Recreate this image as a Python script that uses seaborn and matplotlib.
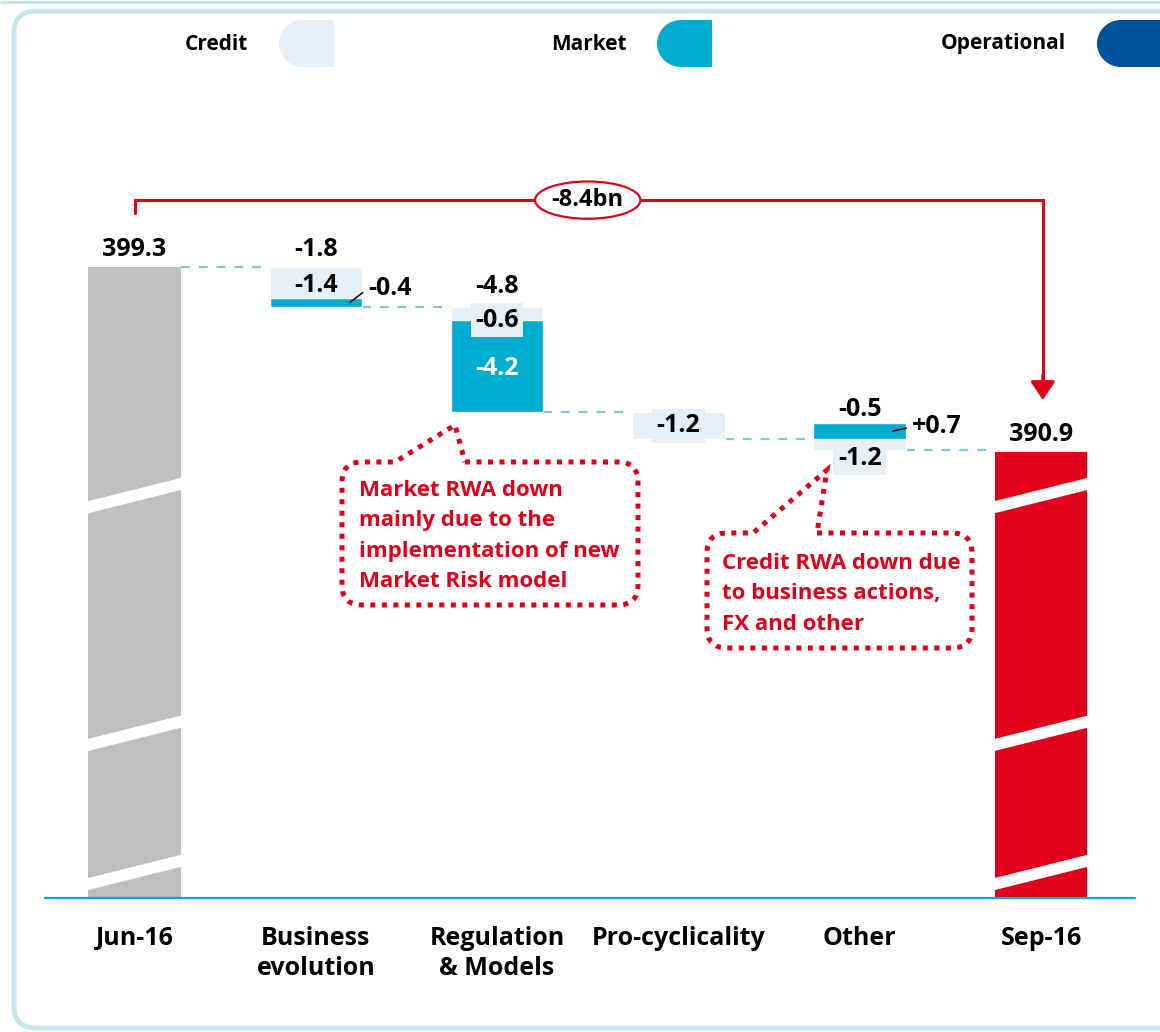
import numpy as np
import pandas as pd
import matplotlib.pyplot as plt
import seaborn as sns
from matplotlib.patches import Ellipse, Rectangle, PathPatch, FancyBboxPatch, Polygon
from matplotlib.path import Path

# data (RWA, bn)
categories = ["Jun-16", "Business\nevolution", "Regulation\n& Models", "Pro-cyclicality", "Other", "Sep-16"]
start_total = 399.3
end_total = 390.9
credit_chg = [-1.4, -0.6, -1.2, -1.2]   # Business, Regulation, Pro-cyclicality, Other
market_chg = [-0.4, -4.2, 0.0, 0.7]
net_chg = [-1.8, -4.8, -1.2, -0.5]
total_chg_label = "-8.4bn"
legend_names = ["Credit", "Market", "Operational"]
note_market = "Market RWA down\nmainly due to the\nimplementation of new\nMarket Risk model"
note_credit = "Credit RWA down due\nto business actions,\nFX and other"

# colours
CREDIT = "#e4eff7"
MARKET = "#00acd0"
OPER = "#00529b"
GREY = "#bfbfbf"
RED = "#e1001a"
DASH = "#7dcbd0"
FRAME = "#c7e5ef"
W = 0.51

sns.set_theme(style="white")
plt.rcParams['font.family'] = ['Open Sans', 'DejaVu Sans']

fig = plt.figure(figsize=(11.6, 10.32), dpi=100)
ax = fig.add_axes([0, 134 / 1032, 1, 898 / 1032])

# totals
df = pd.DataFrame({"cat": categories, "total": [start_total, 0, 0, 0, 0, end_total]})
sns.barplot(data=df, x="cat", y="total", hue="cat",
            palette=[GREY, "white", "white", "white", "white", RED], saturation=1,
            width=W, linewidth=0, legend=False, ax=ax, zorder=2)

# floating credit / market segments
level = start_total
levels = [start_total]
segs = []
for k in range(4):
    i = k + 1
    c, m = credit_chg[k], market_chg[k]
    if m > 0:
        m_lo, m_hi = level, level + m
        c_hi = level + m
        c_lo = c_hi + c
    else:
        c_hi, c_lo = level, level + c
        m_hi, m_lo = c_lo, c_lo + m
    ax.bar(i, c_hi - c_lo, bottom=c_lo, width=W, color=CREDIT, zorder=2)
    if m != 0:
        ax.bar(i, m_hi - m_lo, bottom=m_lo, width=W, color=MARKET, zorder=3)
    segs.append((c_lo, c_hi, m_lo, m_hi))
    level = level + c + m
    levels.append(level)

# dashed connectors
for i in range(5):
    ax.hlines(levels[i], i + W / 2, i + 1 - W / 2, colors=DASH, lw=1.6,
              linestyles=(0, (4, 4)), zorder=1)

# axis break stripes on the total bars
for i in [0, 5]:
    for c in [388.92, 378.12, 371.8]:
        d, t = 1.135, 0.55
        xs = [i - W / 2 - 0.02, i - W / 2 - 0.02, i + W / 2 + 0.02, i + W / 2 + 0.02]
        ys = [c - d / 2 - t / 2, c - d / 2 + t / 2, c + d / 2 + t / 2, c + d / 2 - t / 2]
        ax.add_patch(Polygon(list(zip(xs, ys)), closed=True, fc="white", ec="none", zorder=4))

ax.set_xlim(-134.5 / 181.3, (1160 - 134.5) / 181.3)
ax.set_ylim(370.64, 411.43)
ax.axhline(370.64, xmin=45 / 1160, xmax=1135 / 1160, color=MARKET, lw=1.6, clip_on=False, zorder=5)
sns.despine(ax=ax, left=True, bottom=True)
ax.set_yticks([])
ax.set_xticks(range(6))
ax.set_xticklabels(categories, fontsize=18, fontweight="bold", color="black", linespacing=1.3)
ax.tick_params(axis="x", length=0, pad=20)
ax.set_xlabel("")
ax.set_ylabel("")

lab = dict(fontsize=18, fontweight="bold", color="black", zorder=6)
boxed = dict(boxstyle="square,pad=0.18", fc=CREDIT, ec="none")

# totals labels
ax.annotate(f"{start_total:.1f}", (0, start_total), xytext=(0, 8), textcoords="offset points",
            ha="center", va="baseline", **lab)
ax.annotate(f"{end_total:.1f}", (5, end_total), xytext=(0, 8), textcoords="offset points",
            ha="center", va="baseline", **lab)

# business evolution
c_lo, c_hi, m_lo, m_hi = segs[0]
ax.annotate(f"{net_chg[0]:.1f}", (1, c_hi), xytext=(0, 8), textcoords="offset points",
            ha="center", va="baseline", **lab)
ax.annotate(f"{credit_chg[0]:.1f}", (1, (c_lo + c_hi) / 2), xytext=(0, -2), textcoords="offset points",
            ha="center", va="center", **lab)
ax.annotate(f"{market_chg[0]:.1f}", (1 + W / 2 - 0.066, (m_lo + m_hi) / 2), xytext=(13, 10),
            textcoords="offset points", ha="left", va="center", **lab,
            arrowprops=dict(arrowstyle="-", color="black", lw=1.1, shrinkA=2, shrinkB=0, relpos=(0, 0.5)))

# regulation & models
c_lo, c_hi, m_lo, m_hi = segs[1]
ax.annotate(f"{net_chg[1]:.1f}", (2, c_hi), xytext=(0, 10), textcoords="offset points",
            ha="center", va="baseline", **lab)
ax.annotate(f"{credit_chg[1]:.1f}", (2, (c_lo + c_hi) / 2), xytext=(0, -5), textcoords="offset points",
            ha="center", va="center", bbox=boxed, **lab)
ax.annotate(f"{market_chg[1]:.1f}", (2, (m_lo + m_hi) / 2), xytext=(0, -2), textcoords="offset points",
            ha="center", va="center", fontsize=18, fontweight="bold", color="white", zorder=6)

# pro-cyclicality
c_lo, c_hi, m_lo, m_hi = segs[2]
ax.annotate(f"{credit_chg[2]:.1f}", (3, (c_lo + c_hi) / 2), xytext=(0, 0), textcoords="offset points",
            ha="center", va="center", bbox=boxed, **lab)

# other
c_lo, c_hi, m_lo, m_hi = segs[3]
ax.annotate(f"{net_chg[3]:.1f}", (4, c_hi), xytext=(0, 5), textcoords="offset points",
            ha="center", va="baseline", **lab)
ax.annotate(f"+{market_chg[3]:.1f}", (4 + W / 2 - 0.072, (m_lo + m_hi) / 2), xytext=(14, 3),
            textcoords="offset points", ha="left", va="center", **lab,
            arrowprops=dict(arrowstyle="-", color="black", lw=1.1, shrinkA=2, shrinkB=0, relpos=(0, 0.5)))
ax.annotate(f"{credit_chg[3]:.1f}", (4, c_lo), xytext=(0, -6), textcoords="offset points",
            ha="center", va="center", bbox=boxed, **lab)

# total change bracket arrow
y_top = 402.34
ax.plot([0, 0, 5.01, 5.01], [401.75, y_top, y_top, 394.2], color=RED, lw=2.2,
        solid_joinstyle="miter", zorder=5)
ax.annotate("", xy=(5.01, 393.26), xytext=(5.01, 394.4),
            arrowprops=dict(arrowstyle="-|>,head_length=0.45,head_width=0.3", mutation_scale=25,
                            color=RED, lw=2.2, shrinkA=0, shrinkB=0), zorder=5)
ax.text(2.5, y_top, total_chg_label, ha="center", va="center", fontsize=17, fontweight="bold",
        color="black", zorder=7,
        bbox=dict(boxstyle="ellipse,pad=0.05", fc="white", ec=RED, lw=1.6))

# overlay in pixel coords for frame, legend and callouts
ov = fig.add_axes([0, 0, 1, 1], zorder=5)
ov.set_xlim(0, 1160)
ov.set_ylim(1032, 0)
ov.axis("off")

ov.plot([0, 1160], [1.5, 1.5], color=FRAME, lw=2.2, solid_capstyle="butt")
ov.add_patch(FancyBboxPatch((14, 11), 1180, 1017, boxstyle="round,pad=0,rounding_size=22",
                            fc="none", ec=FRAME, lw=3.5))

# legend
for name, col, tx, sx in zip(legend_names, [CREDIT, MARKET, OPER], [216, 589, 1003], [279, 657, 1097]):
    ov.text(tx, 44, name, ha="center", va="center", fontsize=15, fontweight="bold", color="black")
    ov.add_patch(Ellipse((sx + 24, 43.5), 48, 47, fc=col, ec="none"))
    ov.add_patch(Rectangle((sx + 24, 20), 55 - 24 if sx < 1000 else 60, 47, fc=col, ec="none"))


def callout(x0, y0, x1, y1, r, tl, apex, tr):
    verts = [(tr, y0), (x1 - r, y0), (x1, y0), (x1, y0 + r), (x1, y1 - r), (x1, y1), (x1 - r, y1),
             (x0 + r, y1), (x0, y1), (x0, y1 - r), (x0, y0 + r), (x0, y0), (x0 + r, y0),
             (tl, y0), apex, (tr, y0)]
    codes = [Path.MOVETO, Path.LINETO, Path.CURVE3, Path.CURVE3, Path.LINETO, Path.CURVE3, Path.CURVE3,
             Path.LINETO, Path.CURVE3, Path.CURVE3, Path.LINETO, Path.CURVE3, Path.CURVE3,
             Path.LINETO, Path.LINETO, Path.LINETO]
    ov.add_patch(PathPatch(Path(verts, codes), fc="none", ec=RED, lw=3.6,
                           linestyle=(0, (1, 1.3)), capstyle="butt", joinstyle="miter"))


callout(342, 462, 638, 605, 20, 395, (455, 425), 465)
ov.text(359, 536, note_market, ha="left", va="center", fontsize=16, fontweight="bold",
        color=RED, linespacing=1.6)
callout(707, 533, 972, 648, 20, 753, (827, 470), 817)
ov.text(722, 594, note_credit, ha="left", va="center", fontsize=16, fontweight="bold",
        color=RED, linespacing=1.6)

fig.savefig("out.png", dpi=100)
